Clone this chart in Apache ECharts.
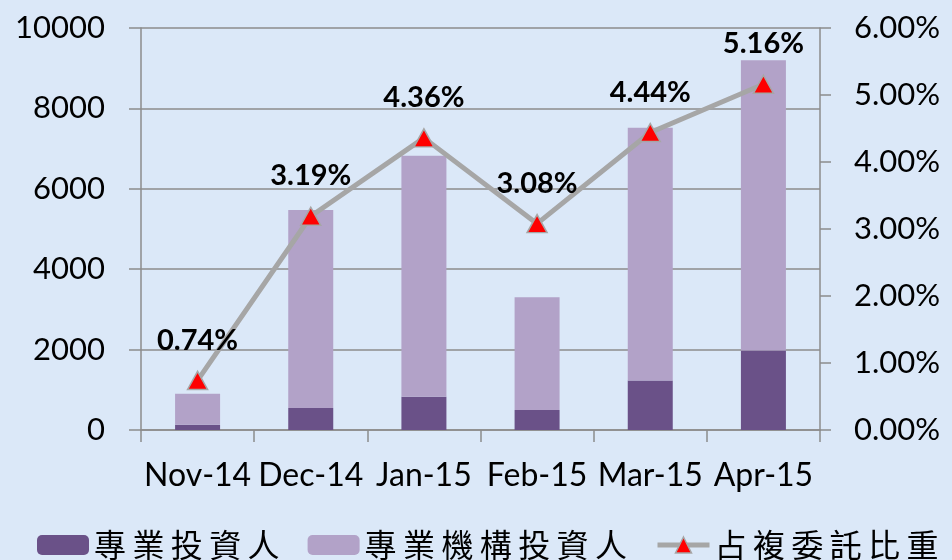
<!DOCTYPE html>
<html>
<head>
<meta charset="utf-8">
<script src="https://cdn.jsdelivr.net/npm/echarts@6/dist/echarts.min.js"></script>
<style>
  html, body { margin: 0; padding: 0; background: #DBE8F8; }
  #main { width: 952px; height: 560px; }
</style>
</head>
<body>
<div id="main"></div>
<script>
// data
var months = ['Nov-14', 'Dec-14', 'Jan-15', 'Feb-15', 'Mar-15', 'Apr-15'];
var proInvestor = [130, 550, 830, 500, 1230, 1980];
var proInstitution = [770, 4920, 5990, 2800, 6290, 7220];
var shareRatio = [0.0074, 0.0319, 0.0436, 0.0308, 0.0444, 0.0516];
var leftTicks = [0, 2000, 4000, 6000, 8000, 10000];
var rightTicks = [0, 0.01, 0.02, 0.03, 0.04, 0.05, 0.06];

var chart = echarts.init(document.getElementById('main'));
var gray = '#8C8C8C';
var latin = 'Lato, "Open Sans", sans-serif';
var cjk = '"Noto Sans CJK TC", sans-serif';

function spaced(name){
    return name.split('').join('\u2009');
}

var option = {
    backgroundColor: '#DBE8F8',
    animation: false,
    grid: { left: 141, right: 132, top: 28, bottom: 130 },
    legend: {
        bottom: -6,
        left: 32,
        itemWidth: 52,
        itemHeight: 20,
        itemGap: 28,
        textStyle: { fontFamily: cjk, fontSize: 32, color: '#000' },
        formatter: spaced,
        data: ['專業投資人', '專業機構投資人', {
            name: '占複委託比重',
            lineStyle: { color: '#A6A6A6', width: 5 },
            itemStyle: { color: '#FF0000', borderColor: '#A6A6A6', borderWidth: 1.5 }
        }]
    },
    xAxis: {
        type: 'category',
        data: months,
        axisLine: { lineStyle: { color: gray, width: 1.5 } },
        axisTick: { show: true, length: 12, alignWithLabel: false, lineStyle: { color: gray, width: 1.5 } },
        axisLabel: { fontFamily: latin, fontSize: 32, color: '#000', margin: 30, interval: 0 }
    },
    yAxis: [{
        type: 'value',
        min: leftTicks[0],
        max: leftTicks[leftTicks.length - 1],
        interval: 2000,
        axisLine: { show: true, lineStyle: { color: gray, width: 1.5 } },
        axisTick: { show: true, length: 12, lineStyle: { color: gray, width: 1.5 } },
        splitLine: { lineStyle: { color: gray, width: 1.5 } },
        axisLabel: { fontFamily: latin, fontSize: 31, color: '#000', margin: 36,
            formatter: function(v){ return String(v); } }
    }, {
        type: 'value',
        min: rightTicks[0],
        max: rightTicks[rightTicks.length - 1],
        interval: 0.01,
        position: 'right',
        axisLine: { show: true, lineStyle: { color: gray, width: 1.5 } },
        axisTick: { show: true, length: 11, lineStyle: { color: gray, width: 1.5 } },
        splitLine: { show: false },
        axisLabel: {
            fontFamily: latin, fontSize: 31, color: '#000', margin: 34,
            formatter: function(v){ return (v * 100).toFixed(2) + '%'; }
        }
    }],
    series: [{
        name: '專業投資人',
        type: 'bar',
        stack: 'total',
        barWidth: 45,
        itemStyle: { color: '#6A5188' },
        data: proInvestor
    }, {
        name: '專業機構投資人',
        type: 'bar',
        stack: 'total',
        barWidth: 45,
        itemStyle: { color: '#B2A2C8' },
        data: proInstitution
    }, {
        name: '占複委託比重',
        type: 'line',
        yAxisIndex: 1,
        symbol: 'triangle',
        symbolSize: [20, 18],
        lineStyle: { color: '#A6A6A6', width: 5 },
        itemStyle: { color: '#FF0000', borderColor: '#A6A6A6', borderWidth: 1.5 },
        label: {
            show: true,
            position: 'top',
            distance: 16,
            fontFamily: latin,
            fontWeight: 'bold',
            fontSize: 29,
            color: '#000',
            formatter: function(p){ return (p.value * 100).toFixed(2) + '%'; }
        },
        data: shareRatio
    }]
};
chart.setOption(option);
</script>
</body>
</html>
